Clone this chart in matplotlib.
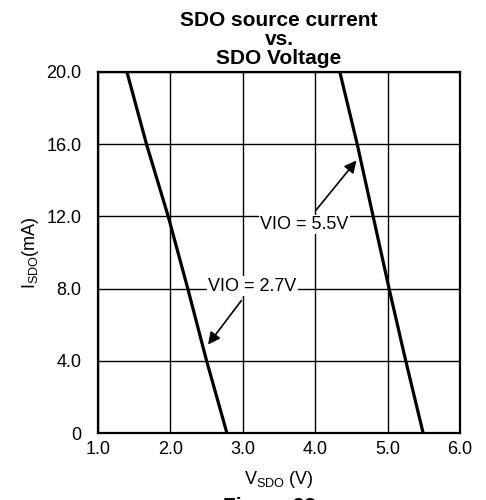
import matplotlib
matplotlib.use('Agg')
import matplotlib.pyplot as plt

plt.rcParams['font.family'] = ['Liberation Sans', 'DejaVu Sans']
plt.rcParams['mathtext.fontset'] = 'custom'
plt.rcParams['mathtext.rm'] = 'Liberation Sans'

# current (mA) vs SDO voltage
current = [20, 16, 12, 8, 4, 0]
v_27 = [1.40, 1.67, 1.97, 2.24, 2.50, 2.78]
v_55 = [4.34, 4.58, 4.80, 5.02, 5.25, 5.49]

xticks = [1.0, 2.0, 3.0, 4.0, 5.0, 6.0]
xticklabels = ['1.0', '2.0', '3.0', '4.0', '5.0', '6.0']
yticks = [0, 4, 8, 12, 16, 20]
yticklabels = ['0', '4.0', '8.0', '12.0', '16.0', '20.0']

fig = plt.figure(figsize=(4.86, 5.0), dpi=100)
ax = fig.add_axes([0.2016, 0.134, 0.745, 0.722])

ax.plot(v_27, current, color='black', lw=2.3, zorder=3)
ax.plot(v_55, current, color='black', lw=2.3, zorder=3)

ax.set_xlim(1.0, 6.0)
ax.set_ylim(0, 20)
ax.set_xticks(xticks)
ax.set_xticklabels(xticklabels)
ax.set_yticks(yticks)
ax.set_yticklabels(yticklabels)
ax.tick_params(axis='both', length=0, labelsize=13)
ax.tick_params(axis='y', pad=12)
ax.tick_params(axis='x', pad=6)
ax.grid(True, color='black', lw=1.0)
for s in ax.spines.values():
    s.set_linewidth(1.6)

ax.set_title('SDO source current\nvs.\nSDO Voltage', fontsize=15,
             fontweight='bold', linespacing=1.0, pad=6)
ax.set_xlabel(r'$\mathregular{V_{SDO}}$ (V)', fontsize=13, labelpad=8)
ax.set_ylabel(r'$\mathregular{I_{SDO}}$(mA)', fontsize=13, labelpad=4)

box = dict(facecolor='white', edgecolor='none', pad=1)
ax.annotate('VIO = 5.5V', xy=(4.57, 15.1), xytext=(3.85, 11.55),
            fontsize=13, ha='center', va='center', bbox=box,
            arrowprops=dict(arrowstyle='-|>', color='black', lw=1.2,
                            mutation_scale=18, shrinkA=4, shrinkB=0))
ax.annotate('VIO = 2.7V', xy=(2.52, 4.9), xytext=(3.13, 8.13),
            fontsize=13, ha='center', va='center', bbox=box,
            arrowprops=dict(arrowstyle='-|>', color='black', lw=1.2,
                            mutation_scale=18, shrinkA=4, shrinkB=0))

# caption is cut off by the bottom edge in the original too
fig.text(0.555, 0.006, 'Figure 23', fontsize=15, fontweight='bold',
         ha='center', va='top')

fig.savefig('out.png', dpi=100)
